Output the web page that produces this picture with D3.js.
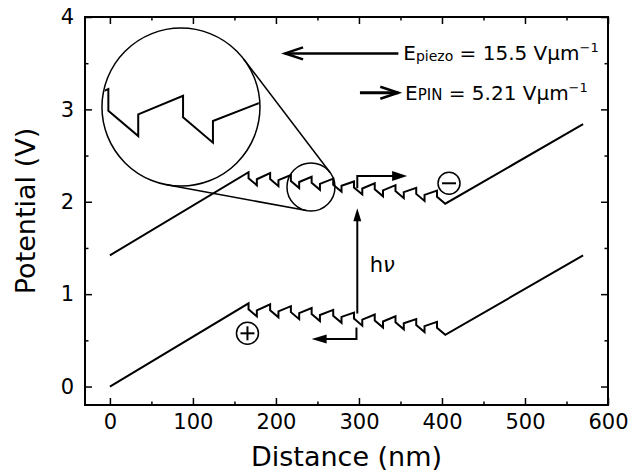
<!DOCTYPE html>
<html>
<head>
<meta charset="utf-8">
<script src="https://cdn.jsdelivr.net/npm/d3@7"></script>
<style>
  body { margin: 0; background: #fff; }
  text { font-family: "DejaVu Sans", sans-serif; fill: #000; }
</style>
</head>
<body>
<svg id="chart" width="641" height="475"></svg>
<script>
// tick values
const xTicks = [0, 100, 200, 300, 400, 500, 600];
const xMinor = [50, 150, 250, 350, 450, 550];
const yTicks = [0, 1, 2, 3, 4];
const yMinor = [0.5, 1.5, 2.5, 3.5];

// valence band (lower line), [distance nm, potential V]
const valenceBand = [
  [0, 0],
  [167, .90], [167, .835], [177, .759], [177, .824],
  [193, .89], [193, .825], [203, .749], [203, .814],
  [218, .87], [218, .805], [228, .729], [228, .794],
  [243, .85], [243, .785], [253, .709], [253, .774],
  [269, .83], [269, .765], [279, .689], [279, .754],
  [294, .80], [294, .735], [304, .659], [304, .724],
  [319, .78], [319, .715], [329, .639], [329, .704],
  [344, .76], [344, .695], [354, .619], [354, .684],
  [369, .73], [369, .665], [379, .589], [379, .654],
  [394, .70], [394, .635], [404, .559],
  [570, 1.42]
];

// conduction band (upper line)
const conductionBand = [
  [0, 1.42],
  [167, 2.32], [167, 2.255], [177, 2.179], [177, 2.244],
  [193, 2.31], [193, 2.245], [203, 2.169], [203, 2.234],
  [218, 2.29], [218, 2.225], [228, 2.149], [228, 2.214],
  [243, 2.27], [243, 2.205], [253, 2.129], [253, 2.194],
  [269, 2.25], [269, 2.185], [279, 2.109], [279, 2.174],
  [294, 2.22], [294, 2.155], [304, 2.079], [304, 2.144],
  [319, 2.20], [319, 2.135], [329, 2.059], [329, 2.124],
  [344, 2.18], [344, 2.115], [354, 2.039], [354, 2.104],
  [369, 2.15], [369, 2.085], [379, 2.009], [379, 2.074],
  [394, 2.12], [394, 2.055], [404, 1.979],
  [570, 2.84]
];

const fieldLabels = [
  { main: "E", sub: "piezo", rest: " = 15.5 Vμm", sup: "−1" },
  { main: "E", sub: "PIN", rest: " = 5.21 Vμm", sup: "−1" }
];

const svg = d3.select("#chart");
const L = 85, R = 608, T = 17, B = 405;

const x = d3.scaleLinear().domain([-30, 600]).range([L, R]);
const y = d3.scaleLinear().domain([-0.2, 4]).range([B, T]);

// axes, ticks pointing inwards on all four sides
function styleAxis(g) {
  g.select(".domain").remove();
  g.selectAll(".tick line").attr("stroke", "#000").attr("stroke-width", 1.5);
  g.selectAll("text").attr("font-size", 21).attr("font-family", "DejaVu Sans").attr("fill", "#000");
}
const fmt = d3.format("d");
svg.append("g").attr("transform", `translate(0,${B})`)
  .call(d3.axisBottom(x).tickValues(xTicks).tickSize(-7).tickPadding(9).tickFormat(fmt))
  .call(styleAxis);
svg.append("g").attr("transform", `translate(0,${B})`)
  .call(d3.axisBottom(x).tickValues(xMinor).tickSize(-3.5).tickFormat(""))
  .call(styleAxis);
svg.append("g").attr("transform", `translate(0,${T})`)
  .call(d3.axisTop(x).tickValues(xTicks).tickSize(-7).tickFormat(""))
  .call(styleAxis);
svg.append("g").attr("transform", `translate(0,${T})`)
  .call(d3.axisTop(x).tickValues(xMinor).tickSize(-3.5).tickFormat(""))
  .call(styleAxis);
svg.append("g").attr("transform", `translate(${L},0)`)
  .call(d3.axisLeft(y).tickValues(yTicks).tickSize(-7).tickPadding(11).tickFormat(fmt))
  .call(styleAxis);
svg.append("g").attr("transform", `translate(${L},0)`)
  .call(d3.axisLeft(y).tickValues(yMinor).tickSize(-3.5).tickFormat(""))
  .call(styleAxis);
svg.append("g").attr("transform", `translate(${R},0)`)
  .call(d3.axisRight(y).tickValues(yTicks).tickSize(-7).tickFormat(""))
  .call(styleAxis);
svg.append("g").attr("transform", `translate(${R},0)`)
  .call(d3.axisRight(y).tickValues(yMinor).tickSize(-3.5).tickFormat(""))
  .call(styleAxis);

svg.append("rect")
  .attr("x", L).attr("y", T).attr("width", R - L).attr("height", B - T)
  .attr("fill", "none").attr("stroke", "#000").attr("stroke-width", 2);

svg.append("text")
  .attr("x", (L + R) / 2).attr("y", 466)
  .attr("text-anchor", "middle").attr("font-size", 27)
  .text("Distance (nm)");
svg.append("text")
  .attr("transform", `translate(35,${(T + B) / 2}) rotate(-90)`)
  .attr("text-anchor", "middle").attr("font-size", 27)
  .text("Potential (V)");

// band lines
const line = d3.line().x(d => x(d[0])).y(d => y(d[1]));
[valenceBand, conductionBand].forEach(band => {
  svg.append("path").attr("d", line(band))
    .attr("fill", "none").attr("stroke", "#000").attr("stroke-width", 2)
    .attr("stroke-linejoin", "miter");
});

// magnifier: small circle on the well region, large inset circle
const small = { cx: x(242.2), cy: y(2.16), r: 24 };
const big = { cx: x(85.6), cy: y(3.025), r: 79 };
const src = { x: x(242.3), y: y(2.236) };
const mag = 3.6;

svg.append("circle").attr("cx", small.cx).attr("cy", small.cy).attr("r", small.r)
  .attr("fill", "none").attr("stroke", "#000").attr("stroke-width", 1.5);
svg.append("circle").attr("cx", big.cx).attr("cy", big.cy).attr("r", big.r)
  .attr("fill", "none").attr("stroke", "#000").attr("stroke-width", 1.5);

// external tangents between the two circles
const dx = small.cx - big.cx, dy = small.cy - big.cy;
const dist = Math.hypot(dx, dy);
const base = Math.atan2(dy, dx);
const th = Math.acos((big.r - small.r) / dist);
[base - th, base + th].forEach(a => {
  svg.append("line")
    .attr("x1", big.cx + big.r * Math.cos(a)).attr("y1", big.cy + big.r * Math.sin(a))
    .attr("x2", small.cx + small.r * Math.cos(a)).attr("y2", small.cy + small.r * Math.sin(a))
    .attr("stroke", "#000").attr("stroke-width", 1.5);
});

svg.append("clipPath").attr("id", "insetClip")
  .append("circle").attr("cx", big.cx).attr("cy", big.cy).attr("r", big.r - 1);
const insetLine = d3.line()
  .x(d => big.cx + mag * (x(d[0]) - src.x))
  .y(d => big.cy + mag * (y(d[1]) - src.y));
svg.append("path").attr("d", insetLine(conductionBand))
  .attr("clip-path", "url(#insetClip)")
  .attr("fill", "none").attr("stroke", "#000").attr("stroke-width", 2);

// arrowheads
function head(tx, ty, dir, len, half) {
  const bx = tx - dir[0] * len, by = ty - dir[1] * len;
  const px = -dir[1] * half, py = dir[0] * half;
  svg.append("path")
    .attr("d", `M${tx},${ty}L${bx + px},${by + py}L${bx - px},${by - py}Z`)
    .attr("fill", "#000");
}

// h nu excitation arrow
svg.append("line")
  .attr("x1", x(298)).attr("y1", y(0.79)).attr("x2", x(298)).attr("y2", y(1.93) + 10)
  .attr("stroke", "#000").attr("stroke-width", 2);
head(x(298), y(1.93), [0, -1], 13, 4);
svg.append("text").attr("x", x(313)).attr("y", y(1.24))
  .attr("font-size", 21)
  .call(t => { t.append("tspan").text("h"); t.append("tspan").attr("font-style", "italic").text("ν"); });

// electron escape (upper) and hole escape (lower) paths
svg.append("path")
  .attr("d", `M${x(298)},${y(2.145)}V${y(2.28)}H${x(358) - 12}`)
  .attr("fill", "none").attr("stroke", "#000").attr("stroke-width", 2);
head(x(358), y(2.28), [1, 0], 15, 5);
svg.append("path")
  .attr("d", `M${x(297)},${y(0.64)}V${y(0.514)}H${x(243) + 12}`)
  .attr("fill", "none").attr("stroke", "#000").attr("stroke-width", 2);
head(x(243), y(0.514), [-1, 0], 15, 4.5);

// charge symbols
function charge(cx, cy, plus) {
  const g = svg.append("g").attr("transform", `translate(${cx},${cy})`);
  g.append("circle").attr("r", 11).attr("fill", "none").attr("stroke", "#000").attr("stroke-width", 1.5);
  g.append("line").attr("x1", -7).attr("x2", 7).attr("stroke", "#000").attr("stroke-width", 2);
  if (plus) g.append("line").attr("y1", -7).attr("y2", 7).attr("stroke", "#000").attr("stroke-width", 2);
}
charge(x(165.7), y(0.576), true);
charge(x(408.5), y(2.2), false);

// field direction arrows and labels
function fieldArrow(x0, x1, yy, w) {
  svg.append("line").attr("x1", x0).attr("y1", yy).attr("x2", x1).attr("y2", yy)
    .attr("stroke", "#000").attr("stroke-width", w);
  const s = Math.sign(x0 - x1);
  svg.append("path")
    .attr("d", `M${x1 + s * 18},${yy - 6}L${x1},${yy}L${x1 + s * 18},${yy + 6}`)
    .attr("fill", "none").attr("stroke", "#000").attr("stroke-width", 2.5)
    .attr("stroke-linejoin", "miter");
}
fieldArrow(x(347.5), x(211), y(3.606), 2.5);
fieldArrow(x(301.2), x(347.4), y(3.18), 3);

const labelPos = [[x(353.4), y(3.533)], [x(355.5), y(3.10)]];
fieldLabels.forEach((f, i) => {
  const t = svg.append("text").attr("x", labelPos[i][0]).attr("y", labelPos[i][1]).attr("font-size", 20);
  t.append("tspan").text(f.main);
  t.append("tspan").attr("font-size", i === 0 ? 14 : 15).attr("dy", i === 0 ? 1 : 0).text(f.sub);
  t.append("tspan").attr("dy", i === 0 ? -1 : 0).text(f.rest);
  t.append("tspan").attr("font-size", 13).attr("dy", -8).text(f.sup);
});
</script>
</body>
</html>
